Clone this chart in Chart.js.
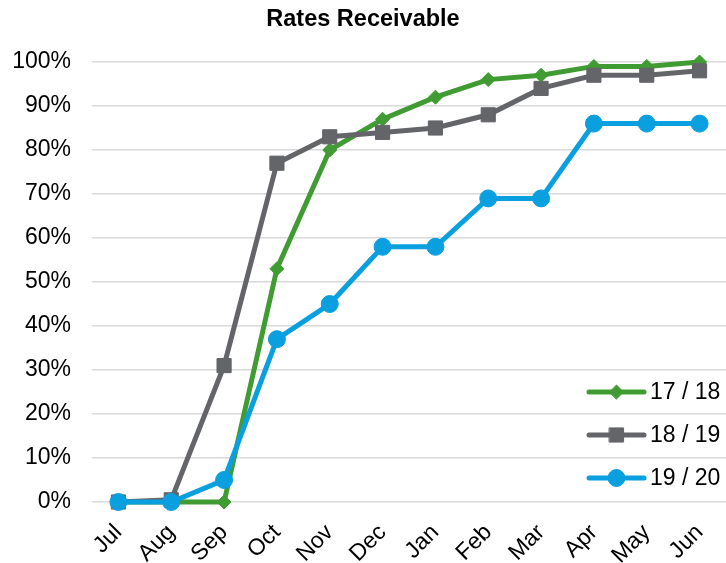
<!DOCTYPE html>
<html>
<head>
<meta charset="utf-8">
<title>Rates Receivable</title>
<script src="https://cdn.jsdelivr.net/npm/chart.js@4/dist/chart.umd.min.js"></script>
<style>
  html, body { margin: 0; padding: 0; background: #fff; }
  #wrap { width: 726px; height: 563px; }
</style>
</head>
<body>
<div id="wrap"><canvas id="c" width="726" height="563"></canvas></div>
<script>
// Monthly cumulative share of rates received, by financial year
const months = ['Jul', 'Aug', 'Sep', 'Oct', 'Nov', 'Dec', 'Jan', 'Feb', 'Mar', 'Apr', 'May', 'Jun'];
const seriesNames = ['17 / 18', '18 / 19', '19 / 20'];
const rates1718 = [0, 0, 0, 53, 80, 87, 92, 96, 97, 99, 99, 100];
const rates1819 = [0, 0.5, 31, 77, 83, 84, 85, 88, 94, 97, 97, 98];
const rates1920 = [0, 0, 5, 37, 45, 58, 58, 69, 69, 86, 86, 86];
const yMin = 0, yMax = 100, yStep = 10;

const FONT = '"Liberation Sans", Arial, Helvetica, sans-serif';
const styles = [
  { color: '#409c32', pointStyle: 'rectRot', radius: 7 },
  { color: '#636569', pointStyle: 'rect', radius: 10 },
  { color: '#0a9fde', pointStyle: 'circle', radius: 8.5 }
];
const values = [rates1718, rates1819, rates1920];

const datasets = values.map((v, i) => ({
  label: seriesNames[i],
  data: v,
  borderColor: styles[i].color,
  backgroundColor: styles[i].color,
  pointBackgroundColor: styles[i].color,
  pointBorderColor: styles[i].color,
  pointStyle: styles[i].pointStyle,
  pointRadius: styles[i].radius,
  pointHoverRadius: styles[i].radius,
  pointBorderWidth: 1,
  borderWidth: 5,
  tension: 0,
  clip: false,
  order: 2 - i // later years drawn on top
}));

// Legend drawn inside the plot, lower right
const insideLegend = {
  id: 'insideLegend',
  afterDraw(chart) {
    const ctx = chart.ctx;
    const a = chart.chartArea;
    const rows = [a.bottom - 110, a.bottom - 67, a.bottom - 24];
    ctx.save();
    seriesNames.forEach((name, i) => {
      const y = rows[i];
      const x0 = a.right - 137, x1 = a.right - 82;
      ctx.strokeStyle = styles[i].color;
      ctx.fillStyle = styles[i].color;
      ctx.lineWidth = 5;
      ctx.lineCap = 'round';
      ctx.beginPath();
      ctx.moveTo(x0, y);
      ctx.lineTo(x1, y);
      ctx.stroke();
      ctx.lineWidth = 1;
      Chart.helpers.drawPoint(ctx, {
        pointStyle: styles[i].pointStyle,
        radius: styles[i].radius,
        rotation: 0,
        borderWidth: 1
      }, (x0 + x1) / 2, y);
      ctx.fillStyle = '#000';
      ctx.font = '23px ' + FONT;
      ctx.textAlign = 'left';
      ctx.textBaseline = 'middle';
      ctx.fillText(name, a.right - 76, y + 1);
    });
    ctx.restore();
  }
};

new Chart(document.getElementById('c'), {
  type: 'line',
  data: { labels: months, datasets },
  options: {
    responsive: false,
    animation: false,
    events: [],
    layout: { autoPadding: false, padding: { left: 0, right: 0, top: 0, bottom: 0 } },
    plugins: {
      legend: { display: false },
      tooltip: { enabled: false },
      title: {
        display: true,
        text: 'Rates Receivable',
        color: '#000',
        font: { family: FONT, size: 23.5, weight: 'bold', lineHeight: 1.2 },
        padding: { top: 5, bottom: 28.8 }
      }
    },
    scales: {
      x: {
        offset: true,
        grid: { display: false },
        border: { display: false },
        ticks: {
          color: '#000',
          font: { family: FONT, size: 23 },
          minRotation: 45,
          maxRotation: 45,
          padding: 9
        },
        afterFit(scale) {
          scale.height = 61;
          scale.paddingLeft = 0;
          scale.paddingRight = 0;
        }
      },
      y: {
        min: yMin,
        max: yMax,
        grid: { color: '#d9d9d9', lineWidth: 1.5, drawTicks: false },
        border: { display: false },
        ticks: {
          stepSize: yStep,
          color: '#000',
          font: { family: FONT, size: 23 },
          padding: 21,
          callback: v => v + '%'
        },
        afterFit(scale) { scale.width = 92; }
      }
    }
  },
  plugins: [insideLegend]
});
</script>
</body>
</html>
